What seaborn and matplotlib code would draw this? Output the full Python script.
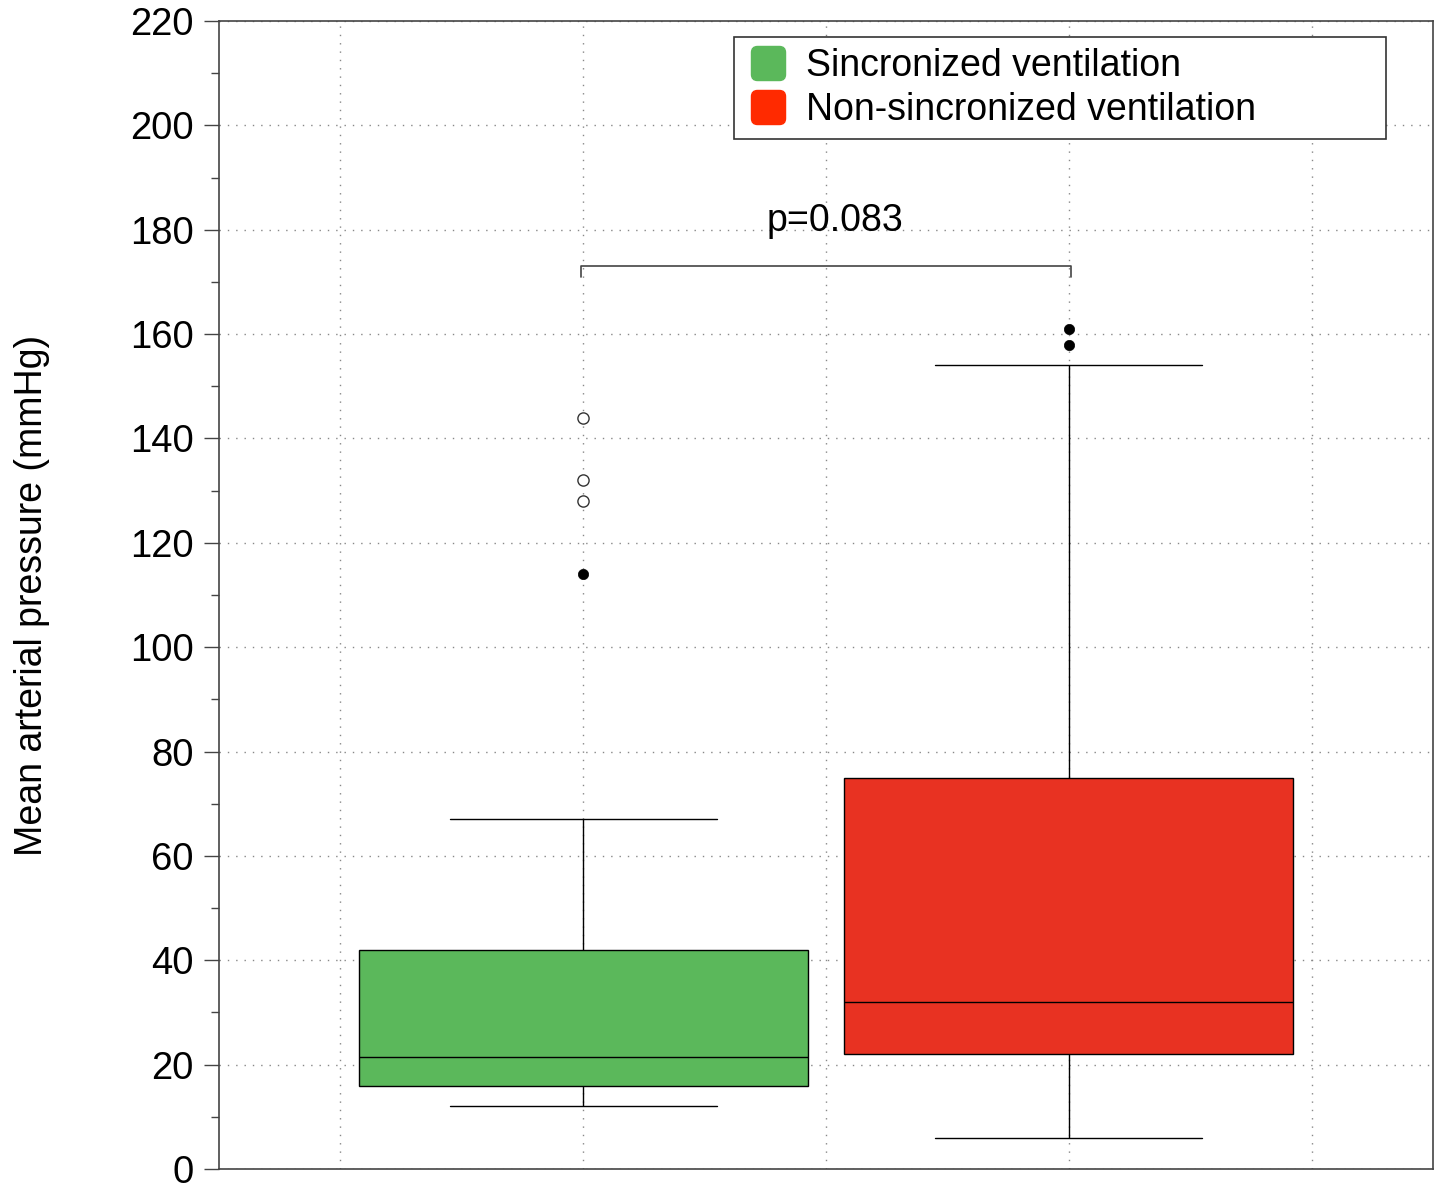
import numpy as np
import pandas as pd
import matplotlib
matplotlib.use("Agg")
import matplotlib.pyplot as plt
from matplotlib.lines import Line2D
from matplotlib.patches import FancyBboxPatch
from matplotlib.ticker import MultipleLocator
import seaborn as sns

# Five-number summaries per group (mmHg)
groups = ["Sincronized ventilation", "Non-sincronized ventilation"]
whisker_low = [12, 6]
q1 = [16, 22]
median = [21.5, 32]
q3 = [42, 75]
whisker_high = [67, 154]

# Points beyond the whiskers
outliers_open = {"Sincronized ventilation": [128, 132, 144],
                 "Non-sincronized ventilation": []}
outliers_filled = {"Sincronized ventilation": [114],
                   "Non-sincronized ventilation": [158, 161]}

p_text = "p=0.083"
bracket_y = 173

box_colors = ["#5bb85b", "#e83222"]
legend_colors = ["#5bb85b", "#ff2a00"]

sns.set_theme(style="white")
plt.rcParams["font.family"] = ["Liberation Sans", "DejaVu Sans"]
plt.rcParams["text.color"] = "black"

# Long-form table holding each group's summary values
rows = []
for i, g in enumerate(groups):
    for v in (whisker_low[i], q1[i], median[i], q3[i], whisker_high[i]):
        rows.append({"group": g, "value": v})
df = pd.DataFrame(rows)

fig = plt.figure(figsize=(14.39, 11.83), dpi=100)
ax = fig.add_axes([219 / 1439, 1 - 1169 / 1183, (1433 - 219) / 1439, (1169 - 21) / 1183])

sns.boxplot(data=df, x="group", y="value", hue="group", palette=box_colors,
            order=groups, hue_order=groups, whis=(0, 100), showfliers=False,
            width=0.924, linewidth=1.0, linecolor="black", saturation=1,
            legend=False, ax=ax, capwidths=0.55)

for i, g in enumerate(groups):
    if outliers_open[g]:
        ax.scatter([i] * len(outliers_open[g]), outliers_open[g], s=65,
                   facecolor="white", edgecolor="#333333", linewidth=1.0, zorder=5)
    if outliers_filled[g]:
        ax.scatter([i] * len(outliers_filled[g]), outliers_filled[g], s=55,
                   facecolor="black", edgecolor="black", linewidth=0.5, zorder=5)

# Significance bracket
ax.plot([-0.005, -0.005, 1.005, 1.005], [bracket_y - 2, bracket_y, bracket_y, bracket_y - 2],
        color="#444444", linewidth=1.2, zorder=6)
ax.text(0.518, 181.7, p_text, ha="center", va="center", fontsize=27, color="black")

ax.set_xlim(-0.75, 1.75)
ax.set_ylim(0, 220)
ax.yaxis.set_major_locator(MultipleLocator(20))
ax.yaxis.set_minor_locator(MultipleLocator(10))
ax.set_xticks([-0.5, 0, 0.5, 1, 1.5])
ax.set_xticklabels([])
ax.tick_params(axis="x", length=0)
ax.tick_params(axis="y", which="major", direction="out", length=11, width=1.0,
               color="#444444", labelsize=27.5, pad=7, left=True, labelcolor="black")
ax.tick_params(axis="y", which="minor", direction="out", length=6, width=1.0,
               color="#444444", left=True)
ax.grid(True, which="major", axis="both", linestyle=(0, (1, 5)), color="#888888", linewidth=1.0)
ax.set_axisbelow(True)
for s in ax.spines.values():
    s.set_visible(True)
    s.set_color("#444444")
    s.set_linewidth(1.2)
ax.set_xlabel("")
ax.set_ylabel("Mean arterial pressure (mmHg)", fontsize=27, labelpad=58, color="black")

# Legend with rounded square swatches, stretched to a fixed frame width
rounded = FancyBboxPatch((-0.5, -0.5), 1, 1, boxstyle="round,pad=0,rounding_size=0.18").get_path()
handles = [Line2D([], [], linestyle="none", marker=rounded, markersize=24.5,
                  markerfacecolor=c, markeredgecolor=c) for c in legend_colors]
x0 = (734 - 219) / 1214
x1 = (1386 - 219) / 1214
y_top = (1169 - 37) / 1148
leg = ax.legend(handles, groups, loc="upper left", mode="expand",
                bbox_to_anchor=(x0, y_top - 0.09, x1 - x0, 0.09),
                fontsize=27, frameon=True, fancybox=False, framealpha=1,
                edgecolor="#333333", borderpad=0.3, labelspacing=0.2,
                handletextpad=0.42, handlelength=1.2, borderaxespad=0,
                labelcolor="black")
leg.get_frame().set_linewidth(1.2)

fig.savefig("out.png", dpi=100)
